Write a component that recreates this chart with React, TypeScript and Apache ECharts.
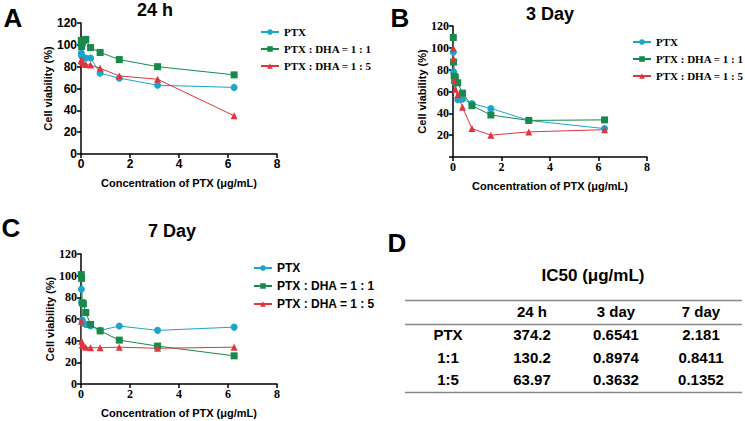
import React, { useEffect, useRef } from "react";
import * as echarts from "echarts";

const conc = [0.0122, 0.0244, 0.0488, 0.0977, 0.1953, 0.3906, 0.7813, 1.5625, 3.125, 6.25];

const seriesNames = ["PTX", "PTX : DHA = 1 : 1", "PTX : DHA = 1 : 5"];

const ptx24h = [92.5, 90, 89, 88, 88, 88, 74, 69.5, 63, 61];
const dha11_24h = [104, 98.5, 102, 104, 105, 97.5, 93, 86.5, 80, 72.5];
const dha15_24h = [86, 85.5, 85, 83, 82, 81.5, 78.5, 71.5, 68.5, 35];

const ptx3d = [96, 78, 69, 68.5, 52.5, 53, 49, 44.5, 33.5, 26];
const dha11_3d = [109.5, 87, 74, 73, 68, 58.5, 47, 38.5, 33.5, 34];
const dha15_3d = [99.5, 90, 70, 62, 57, 45.5, 26, 20, 23, 25];

const ptx7d = [87.5, 75.5, 59, 56, 55, 53.5, 49.5, 53.5, 49.5, 52.5];
const dha11_7d = [101, 97.5, 75, 74, 66, 55, 49, 40.5, 35, 26];
const dha15_7d = [58, 39.5, 36, 35, 34, 33.5, 33.5, 34, 33, 34];

const panelTitles = ["24 h", "3 Day", "7 Day"];
const panelLetters = ["A", "B", "C", "D"];

const tableTitle = "IC50 (μg/mL)";
const tableCols = ["24 h", "3 day", "7 day"];
const tableRows = ["PTX", "1:1", "1:5"];
const ic50PTX = ["374.2", "0.6541", "2.181"];
const ic50_11 = ["130.2", "0.8974", "0.8411"];
const ic50_15 = ["63.97", "0.3632", "0.1352"];

const xName = "Concentration of PTX (μg/mL)";
const yName = "Cell viability (%)";

const colors = ["#1ba6c8", "#17894a", "#e2343f"];
const symbols = ["circle", "rect", "triangle"];
const symbolSizes = [7, 7, 7];

const SANS = "'Liberation Sans', Arial, sans-serif";
const SERIF = "'Liberation Serif', 'Times New Roman', serif";

export default function App() {
  const ref = useRef<HTMLDivElement>(null);

  useEffect(() => {
    if (!ref.current) return;
    const chart = echarts.init(ref.current, undefined, { renderer: "svg" });

    const grids = [
      { left: 81, top: 23, width: 196, height: 131 },
      { left: 453, top: 26, width: 194, height: 131 },
      { left: 81, top: 254, width: 196, height: 130 },
    ];
    const tickFonts = [SANS, SERIF, SERIF];
    const tickSizes = [12, 12, 12];
    const legendFonts = [SERIF, SERIF, SANS];
    const legendSizes = [11, 11, 12];
    const legendPos = [
      { left: 255, top: 21, gap: 5 },
      { left: 627, top: 31, gap: 5 },
      { left: 248, top: 257, gap: 6 },
    ];
    const data = [
      [ptx24h, dha11_24h, dha15_24h],
      [ptx3d, dha11_3d, dha15_3d],
      [ptx7d, dha11_7d, dha15_7d],
    ];

    const xAxis: any[] = [];
    const yAxis: any[] = [];
    const series: any[] = [];
    const legend: any[] = [];

    grids.forEach((_, gi) => {
      const axisLine = { show: true, lineStyle: { color: "#000", width: 1.5 } };
      const axisTick = { show: true, length: 4, lineStyle: { color: "#000", width: 1.5 } };
      const label = {
        fontFamily: tickFonts[gi],
        fontWeight: "bold",
        fontSize: tickSizes[gi],
        color: "#000",
        margin: 4,
      };
      const nameStyle = { fontFamily: SANS, fontWeight: "bold", fontSize: 11, color: "#000" };
      xAxis.push({
        gridIndex: gi,
        type: "value",
        min: 0,
        max: 8,
        interval: 2,
        axisLine,
        axisTick,
        axisLabel: label,
        splitLine: { show: false },
        name: xName,
        nameLocation: "middle",
        nameGap: 23,
        nameTextStyle: nameStyle,
      });
      yAxis.push({
        gridIndex: gi,
        type: "value",
        min: 0,
        max: 120,
        interval: 20,
        axisLine,
        axisTick,
        axisLabel: {
          ...label,
          formatter: gi === 1 ? (v: number) => (v === 0 ? "" : String(v)) : undefined,
        },
        splitLine: { show: false },
        name: yName,
        nameLocation: "middle",
        nameGap: 24,
        nameTextStyle: nameStyle,
      });
      data[gi].forEach((vals, si) => {
        series.push({
          type: "line",
          name: seriesNames[si],
          xAxisIndex: gi,
          yAxisIndex: gi,
          data: conc.map((c, i) => [c, vals[i]]),
          symbol: symbols[si],
          symbolSize: symbolSizes[si],
          lineStyle: { width: 1, color: colors[si] },
          itemStyle: { color: colors[si] },
        });
      });
      legend.push({
        orient: "vertical",
        left: legendPos[gi].left,
        top: legendPos[gi].top,
        itemWidth: 18,
        itemHeight: 7,
        itemGap: legendPos[gi].gap,
        data: seriesNames,
        textStyle: {
          fontFamily: legendFonts[gi],
          fontWeight: "bold",
          fontSize: legendSizes[gi],
          color: "#000",
          lineHeight: 12,
        },
        selectedMode: false,
      });
    });

    const graphic: any[] = [];
    const titlePos = [
      [155, 10],
      [550, 14],
      [172, 231],
    ];
    panelTitles.forEach((t, i) => {
      graphic.push({
        type: "text",
        x: titlePos[i][0],
        y: titlePos[i][1],
        style: {
          text: t,
          fontFamily: SANS,
          fontWeight: "bold",
          fontSize: 18,
          fill: "#000",
          align: "center",
          verticalAlign: "middle",
        },
      });
    });
    const letterPos = [
      [13, 18],
      [400, 18],
      [11, 228],
      [397, 243],
    ];
    panelLetters.forEach((t, i) => {
      graphic.push({
        type: "text",
        x: letterPos[i][0],
        y: letterPos[i][1],
        style: {
          text: t,
          fontFamily: SANS,
          fontWeight: "bold",
          fontSize: 26,
          fill: "#000",
          align: "center",
          verticalAlign: "middle",
        },
      });
    });

    // Table D
    graphic.push({
      type: "text",
      x: 593,
      y: 275,
      style: {
        text: tableTitle,
        fontFamily: SANS,
        fontWeight: "bold",
        fontSize: 17,
        fill: "#000",
        align: "center",
        verticalAlign: "middle",
      },
    });
    [300.5, 324.5, 392.5].forEach((y) => {
      graphic.push({
        type: "line",
        shape: { x1: 405, y1: y, x2: 742, y2: y },
        style: { stroke: "#888", lineWidth: 1.5 },
      });
    });
    const colX = [448, 532, 616, 701];
    const rowY = [311, 334.5, 357, 379.5];
    const cellStyle = (text: string, x: number, y: number) => ({
      type: "text",
      x,
      y,
      style: {
        text,
        fontFamily: SANS,
        fontWeight: "bold",
        fontSize: 15,
        fill: "#000",
        align: "center",
        verticalAlign: "middle",
      },
    });
    tableCols.forEach((c, i) => graphic.push(cellStyle(c, colX[i + 1], rowY[0])));
    const rowsVals = [ic50PTX, ic50_11, ic50_15];
    tableRows.forEach((r, ri) => {
      graphic.push(cellStyle(r, colX[0], rowY[ri + 1]));
      rowsVals[ri].forEach((v, ci) => graphic.push(cellStyle(v, colX[ci + 1], rowY[ri + 1])));
    });

    chart.setOption({
      animation: false,
      backgroundColor: "#fff",
      grid: grids,
      xAxis,
      yAxis,
      series,
      legend,
      graphic,
    });

    return () => chart.dispose();
  }, []);

  return (
    <div
      ref={ref}
      style={{ position: "fixed", left: 0, top: 0, width: 745, height: 421, background: "#fff" }}
    />
  );
}
